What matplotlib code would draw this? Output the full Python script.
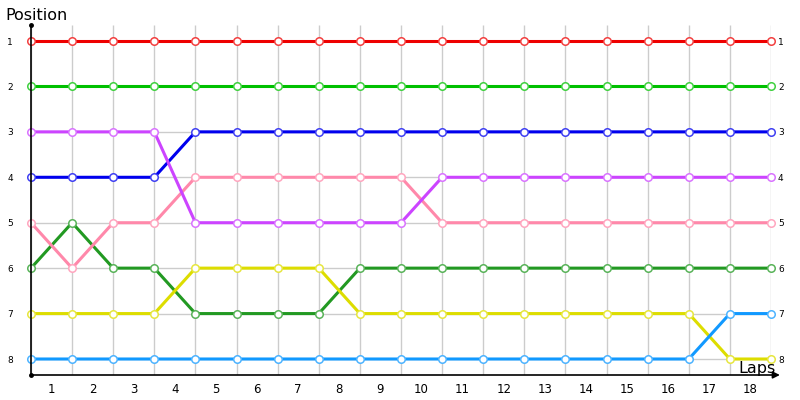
import matplotlib
matplotlib.use("Agg")
import matplotlib.pyplot as plt
from matplotlib.colors import to_rgb

# positions per lap marker (index 0 = start, 1..18 = after each lap)
laps = list(range(19))
lap_labels = [str(i) for i in range(1, 19)]
positions = [1, 2, 3, 4, 5, 6, 7, 8]

red = [1] * 19
green = [2] * 19
magenta = [3, 3, 3, 3, 5, 5, 5, 5, 5, 5, 4, 4, 4, 4, 4, 4, 4, 4, 4]
blue = [4, 4, 4, 4, 3, 3, 3, 3, 3, 3, 3, 3, 3, 3, 3, 3, 3, 3, 3]
pink = [5, 6, 5, 5, 4, 4, 4, 4, 4, 4, 5, 5, 5, 5, 5, 5, 5, 5, 5]
dkgreen = [6, 5, 6, 6, 7, 7, 7, 7, 6, 6, 6, 6, 6, 6, 6, 6, 6, 6, 6]
yellow = [7, 7, 7, 7, 6, 6, 6, 6, 7, 7, 7, 7, 7, 7, 7, 7, 7, 8, 8]
ltblue = [8, 8, 8, 8, 8, 8, 8, 8, 8, 8, 8, 8, 8, 8, 8, 8, 8, 7, 7]

series = [
    (red, "#ee0000"),
    (green, "#00c000"),
    (dkgreen, "#229922"),
    (yellow, "#dddd00"),
    (ltblue, "#1199ff"),
    (pink, "#ff88aa"),
    (blue, "#0000ee"),
    (magenta, "#cc44ff"),
]


def lighter(c, f=0.25):
    r, g, b = to_rgb(c)
    return (r + (1 - r) * f, g + (1 - g) * f, b + (1 - b) * f)


fig = plt.figure(figsize=(8, 4), dpi=100)
ax = fig.add_axes([31 / 800, 25 / 400, 740 / 800, 350 / 400])

ax.set_xlim(0, 18)
pad = 16 / (318 / 7)
ax.set_ylim(8 + pad, 1 - pad)

# grid
ax.vlines(laps, 8 + pad, 1 - pad, color="#cccccc", lw=1, zorder=1)
ax.hlines(positions, 0, 18, color="#cccccc", lw=1, zorder=1)

for vals, col in series:
    ax.plot(laps, vals, color=col, lw=2.2, marker="o", ms=5.4,
            mfc="white", mec=lighter(col), mew=1.1, zorder=3, clip_on=False)

for s in ["top", "right", "left", "bottom"]:
    ax.spines[s].set_visible(False)

ax.set_xticks([i + 0.5 for i in range(18)])
ax.set_xticklabels(lap_labels, fontsize=8.5)
ax.tick_params(axis="x", length=0, pad=6)

ax.set_yticks(positions)
ax.set_yticklabels([str(p) for p in positions], fontsize=6.5)
ax.tick_params(axis="y", length=0, pad=5, labelright=True, right=False)
for t in ax.yaxis.get_major_ticks():
    t.label1.set_x(-14 / 740)
    t.label1.set_horizontalalignment("center")
    t.label2.set_horizontalalignment("left")

# axis lines with end dots and arrow
ax.plot([0, 0], [0, 1], transform=ax.transAxes, color="black", lw=1.2,
        clip_on=False, zorder=4)
ax.annotate("", xy=(1.012, 0), xytext=(0, 0), xycoords="axes fraction",
            textcoords="axes fraction",
            arrowprops=dict(arrowstyle="-|>", color="black", lw=1.2,
                            mutation_scale=10, shrinkA=0, shrinkB=0))
ax.plot([0, 0], [0, 1], transform=ax.transAxes, ls="none", marker="o",
        ms=2.5, color="black", clip_on=False, zorder=5)

fig.text(5 / 800, 1 - 16 / 400, "Position", fontsize=11.5, va="center",
         ha="left")
fig.text(776 / 800, 1 - 368 / 400, "Laps", fontsize=11.5, va="center",
         ha="right")

fig.savefig("out.png", dpi=100)
